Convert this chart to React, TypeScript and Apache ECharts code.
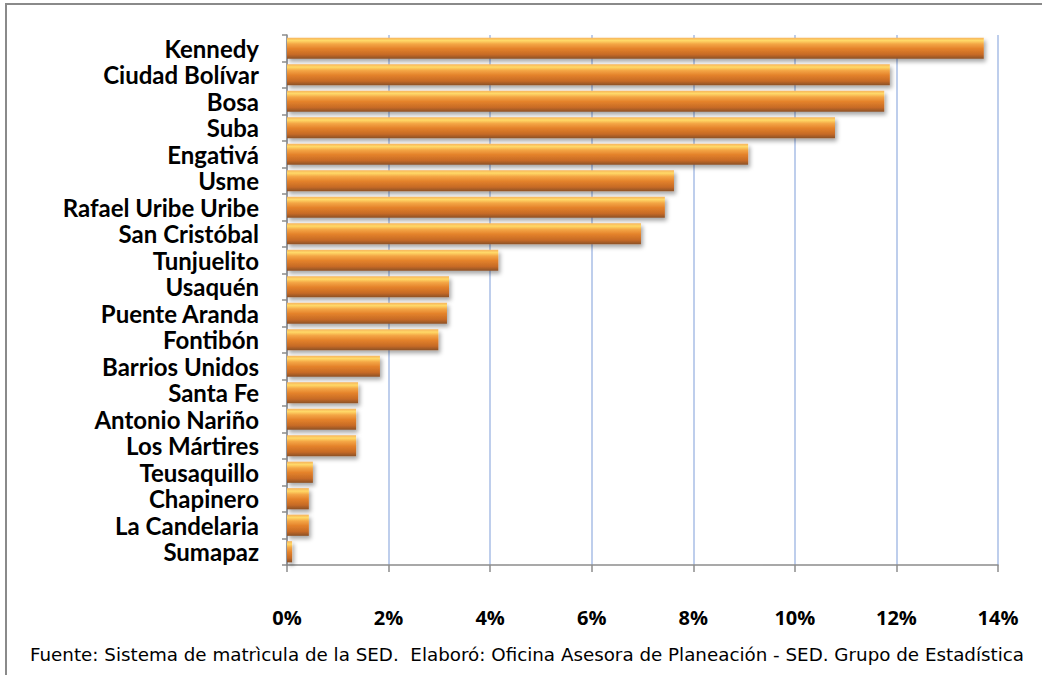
import React, { useEffect, useRef } from "react";
import * as echarts from "echarts";

const categories = [
  "Kennedy",
  "Ciudad Bolívar",
  "Bosa",
  "Suba",
  "Engativá",
  "Usme",
  "Rafael Uribe Uribe",
  "San Cristóbal",
  "Tunjuelito",
  "Usaquén",
  "Puente Aranda",
  "Fontibón",
  "Barrios Unidos",
  "Santa Fe",
  "Antonio Nariño",
  "Los Mártires",
  "Teusaquillo",
  "Chapinero",
  "La Candelaria",
  "Sumapaz",
];

const shares = [
  13.72, 11.87, 11.76, 10.79, 9.08, 7.62, 7.44, 6.97, 4.16, 3.19, 3.15, 2.98,
  1.83, 1.4, 1.36, 1.36, 0.51, 0.43, 0.43, 0.1,
];

const xTicks = [0, 2, 4, 6, 8, 10, 12, 14];

const footer =
  "Fuente: Sistema de matrìcula de la SED.  Elaboró: Oficina Asesora de Planeación - SED. Grupo de Estadística";

export default function App() {
  const ref = useRef<HTMLDivElement>(null);

  useEffect(() => {
    if (!ref.current) return;
    const chart = echarts.init(ref.current, null, { renderer: "svg" });
    const barGradient = new echarts.graphic.LinearGradient(0, 0, 0, 1, [
      { offset: 0, color: "#f6b25a" },
      { offset: 0.14, color: "#ffd968" },
      { offset: 0.3, color: "#f4a645" },
      { offset: 0.52, color: "#e4822b" },
      { offset: 0.8, color: "#c66a25" },
      { offset: 1, color: "#8a5027" },
    ]);
    chart.setOption({
      animation: false,
      backgroundColor: "#ffffff",
      grid: { left: 287, right: 44, top: 35, bottom: 110, containLabel: false },
      xAxis: {
        type: "value",
        min: xTicks[0],
        max: xTicks[xTicks.length - 1],
        interval: 2,
        axisLine: { show: true, lineStyle: { color: "#8c8c8c", width: 1.5 } },
        axisTick: { show: true, length: 7, lineStyle: { color: "#8c8c8c", width: 1.5 } },
        splitLine: { show: true, lineStyle: { color: "#a9bee6", width: 1.5 } },
        axisLabel: {
          formatter: (v: number) => `${v}%`,
          fontFamily: "Open Sans",
          fontWeight: "bold",
          fontSize: 20,
          color: "#000",
          margin: 42,
        },
      },
      yAxis: {
        type: "category",
        data: categories,
        inverse: true,
        axisLine: { show: true, lineStyle: { color: "#8c8c8c", width: 1.5 } },
        axisTick: { show: true, length: 5, lineStyle: { color: "#8c8c8c", width: 1.5 } },
        axisLabel: {
          fontFamily: "Lato",
          fontWeight: "bold",
          fontSize: 24,
          color: "#000",
          margin: 28,
          interval: 0,
        },
      },
      series: [
        {
          type: "bar",
          data: shares,
          barCategoryGap: "20%",
          itemStyle: {
            color: barGradient,
            shadowColor: "rgba(0,0,0,0.35)",
            shadowBlur: 4,
            shadowOffsetX: 2,
            shadowOffsetY: 3,
          },
        },
      ],
      graphic: [
        {
          type: "rect",
          shape: { x: 6, y: 4, width: 1050, height: 690 },
          style: { fill: "none", stroke: "#8a8a8a", lineWidth: 2 },
          silent: true,
        },
        {
          type: "text",
          left: 30,
          top: 645,
          style: {
            text: footer,
            fontFamily: "DejaVu Sans",
            fontSize: 18.3,
            fill: "#000",
          },
        },
      ],
    });
    return () => chart.dispose();
  }, []);

  return (
    <div
      ref={ref}
      style={{ position: "fixed", left: 0, top: 0, width: 1042, height: 675 }}
    />
  );
}
